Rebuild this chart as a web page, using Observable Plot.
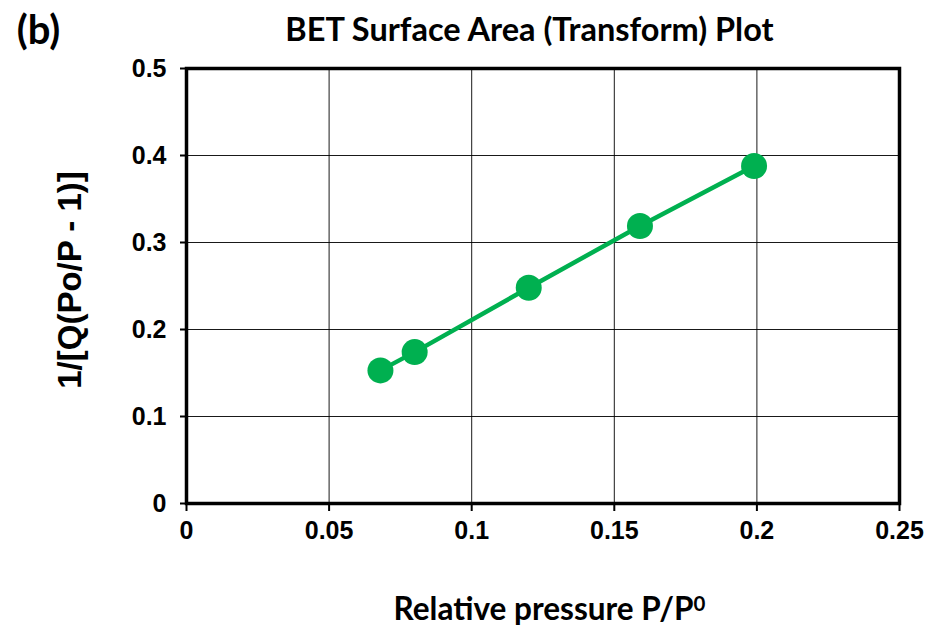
<!DOCTYPE html>
<html><head><meta charset="utf-8">
<script src="https://cdn.jsdelivr.net/npm/d3@7"></script>
<script src="https://cdn.jsdelivr.net/npm/@observablehq/plot@0.6"></script>
<style>body{margin:0;background:#fff}</style>
</head><body><div id="chart"></div>
<script>
const relPressure = [0.068, 0.080, 0.120, 0.159, 0.199];
const betTransform = [0.153, 0.174, 0.248, 0.319, 0.388];
const xTicks = [0, 0.05, 0.1, 0.15, 0.2, 0.25];
const yTicks = [0, 0.1, 0.2, 0.3, 0.4, 0.5];
const titleText = "BET Surface Area (Transform) Plot";
const panelLabel = "(b)";
const xTitleMain = "Relative pressure P/P";
const xTitleSup = "0";
const yTitle = "1/[Q(Po/P - 1)]";

const data = relPressure.map((x, i) => ({x, y: betTransform[i]}));
const green = "#00B050";
const humanist = "Lato, 'Open Sans', sans-serif";
const arial = "'Liberation Sans', Arial, sans-serif";

const chart = Plot.plot({
  width: 930, height: 627,
  marginLeft: 186, marginRight: 31, marginTop: 68, marginBottom: 124,
  style: {fontFamily: arial, fontSize: "25px", fontWeight: "bold", background: "#fff", color: "#000"},
  x: {domain: [0, 0.25]},
  y: {domain: [0, 0.5]},
  marks: [
    Plot.gridX(xTicks, {stroke: "#000", strokeOpacity: 0.9, strokeWidth: 1}),
    Plot.gridY(yTicks, {stroke: "#000", strokeOpacity: 0.9, strokeWidth: 1}),
    Plot.axisX({ticks: xTicks, tickFormat: d => String(d), tickSize: 8, tickPadding: 10, strokeWidth: 2, label: null, fontSize: 25, fontWeight: "bold"}),
    Plot.axisY({ticks: yTicks, tickFormat: d => String(d), tickSize: 6, tickPadding: 14, strokeWidth: 2, label: null, fontSize: 25, fontWeight: "bold"}),
    Plot.frame({stroke: "#000", strokeWidth: 3.5}),
    Plot.line(data, {x: "x", y: "y", stroke: green, strokeWidth: 4.5}),
    Plot.dot(data, {x: "x", y: "y", r: 13, fill: green, stroke: "none"}),
    Plot.text([titleText], {frameAnchor: "top-left", text: d => d, dx: 343, dy: -38, fontSize: 32.5, fontWeight: "bold", fontFamily: humanist, textAnchor: "middle", lineAnchor: "middle"}),
    Plot.text([panelLabel], {frameAnchor: "top-left", text: d => d, dx: -148, dy: -37, fontSize: 40, fontWeight: "bold", fontFamily: humanist, textAnchor: "middle", lineAnchor: "middle"}),
    Plot.text([xTitleMain], {frameAnchor: "bottom-left", text: d => d, dx: 363, dy: 106, fontSize: 31.5, fontWeight: "bold", fontFamily: humanist, textAnchor: "middle", lineAnchor: "middle"}),
    Plot.text([yTitle], {frameAnchor: "left", text: d => d, dx: -116, dy: -6, rotate: -90, fontSize: 33, fontWeight: "bold", fontFamily: arial, textAnchor: "middle", lineAnchor: "middle"})
  ]
});
// add superscript to the x-axis title
d3.select(chart).selectAll("text").filter(function() { return this.textContent === xTitleMain; })
  .append("tspan").attr("dy", "-0.4em").attr("font-size", "0.65em").text(xTitleSup);
document.getElementById("chart").appendChild(chart);
</script>
</body></html>
